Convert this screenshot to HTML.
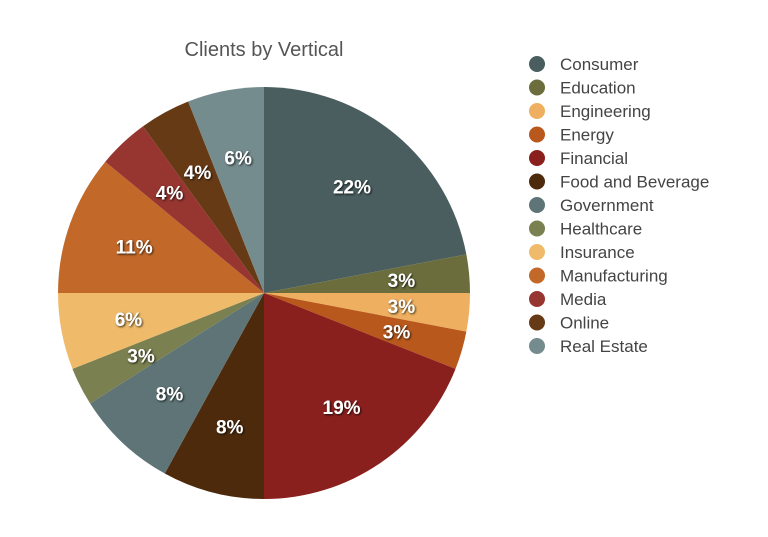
<!DOCTYPE html>
<html><head><meta charset="utf-8"><style>
body{margin:0;background:#fff;width:768px;height:532px;overflow:hidden;font-family:"Liberation Sans",sans-serif}
</style></head><body>
<svg width="768" height="532">
<text x="264" y="56" text-anchor="middle" font-size="20" fill="#555">Clients by Vertical</text>
<defs><filter id="sh" x="-20%" y="-20%" width="140%" height="140%"><feDropShadow dx="1" dy="1" stdDeviation="1" flood-color="#000" flood-opacity="0.8"/></filter></defs>
<g id="slices"></g><g id="labels"></g><g id="legend"></g>
</svg>
<script>
const categories=["Consumer","Education","Engineering","Energy","Financial","Food and Beverage","Government","Healthcare","Insurance","Manufacturing","Media","Online","Real Estate"];
const values=[22,3,3,3,19,8,8,3,6,11,4,4,6];
const colors=["#4a5e60","#6b6e3c","#eeb060","#b9581c","#8a201e","#4e2a0c","#5e7476","#7b8050","#efbb6b","#c2692a","#973530","#673a16","#748c8e"];
const ns="http://www.w3.org/2000/svg";
const cx=264,cy=293,R=206,LR=138;
const total=values.reduce((a,b)=>a+b,0);
function pt(a,r){return [cx+r*Math.sin(a),cy-r*Math.cos(a)];}
let a0=0;
const gs=document.getElementById('slices'),gl=document.getElementById('labels'),gg=document.getElementById('legend');
values.forEach((v,i)=>{
 const a1=a0+v/total*2*Math.PI;
 const p0=pt(a0,R),p1=pt(a1,R);
 const p=document.createElementNS(ns,'path');
 p.setAttribute('d',`M${cx},${cy}L${p0[0]},${p0[1]}A${R},${R} 0 ${a1-a0>Math.PI?1:0} 1 ${p1[0]},${p1[1]}Z`);
 p.setAttribute('fill',colors[i]);
 
 
 gs.appendChild(p);
 const m=pt((a0+a1)/2,LR);
 const t=document.createElementNS(ns,'text');
 t.setAttribute('x',m[0]);t.setAttribute('y',m[1]+7);
 t.setAttribute('text-anchor','middle');t.setAttribute('font-size','19');
 t.setAttribute('font-weight','bold');t.setAttribute('fill','#fff');t.setAttribute('filter','url(#sh)');
 t.textContent=Math.round(v/total*100)+'%';
 
 
 gl.appendChild(t);
 a0=a1;
 const y=64+i*23.5;
 const c=document.createElementNS(ns,'circle');
 c.setAttribute('cx',537);c.setAttribute('cy',y);c.setAttribute('r',8);c.setAttribute('fill',colors[i]);
 
 
 gg.appendChild(c);
 const lt=document.createElementNS(ns,'text');
 lt.setAttribute('x',560);lt.setAttribute('y',y+6);lt.setAttribute('font-size','17');lt.setAttribute('fill','#444');
 lt.textContent=categories[i];
 
 
 gg.appendChild(lt);
});
</script>
</body></html>
